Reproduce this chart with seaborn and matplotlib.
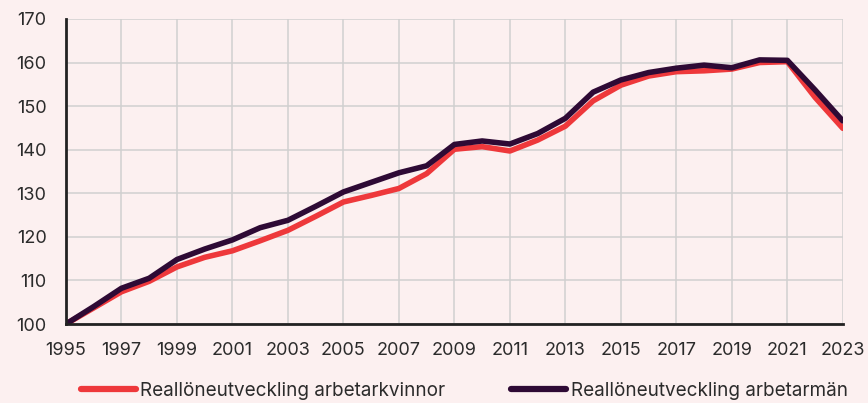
import matplotlib
matplotlib.use("Agg")
import matplotlib.pyplot as plt
import seaborn as sns
import pandas as pd

# data (index, 1995 = 100)
years = list(range(1995, 2024))
kvinnor = [100.0, 103.7, 107.4, 109.8, 113.1, 115.3, 116.8, 119.1, 121.5, 124.7,
           128.0, 129.5, 131.1, 134.5, 140.1, 140.7, 139.7, 142.2, 145.4, 151.2,
           154.8, 156.9, 157.9, 158.1, 158.5, 160.0, 160.2, 152.0, 144.9]
man = [100.0, 104.0, 108.2, 110.5, 114.8, 117.2, 119.3, 122.1, 123.8, 127.0,
       130.3, 132.5, 134.7, 136.3, 141.2, 142.0, 141.3, 143.7, 147.2, 153.2,
       156.0, 157.7, 158.7, 159.4, 158.8, 160.6, 160.5, 153.7, 146.6]
labels = ["Reallöneutveckling arbetarkvinnor", "Reallöneutveckling arbetarmän"]
colors = ["#EE383B", "#2E0A35"]

df = pd.DataFrame({
    "year": years * 2,
    "value": kvinnor + man,
    "serie": [labels[0]] * len(years) + [labels[1]] * len(years),
})

bg = "#FCF0F0"
sns.set_theme(style="whitegrid")
plt.rcParams["font.family"] = ["Inter", "DejaVu Sans"]

fig = plt.figure(figsize=(8.68, 4.03), dpi=100, facecolor=bg)
ax = fig.add_axes([0.076, 0.196, 0.895, 0.757])
ax.set_facecolor(bg)

sns.lineplot(data=df, x="year", y="value", hue="serie", palette=colors,
             linewidth=4, ax=ax, legend=False)

ax.set_xlim(1995, 2023)
ax.set_ylim(100, 170)
ax.set_xticks(range(1995, 2024, 2))
ax.set_yticks(range(100, 171, 10))
ax.set_xlabel("")
ax.set_ylabel("")
ax.grid(True, color="#D0D0D0", linewidth=1.1)
ax.tick_params(axis="both", labelsize=13, colors="#2B2B2B", length=0)
ax.tick_params(axis="y", pad=14)
ax.tick_params(axis="x", pad=13)

for side in ["top", "right"]:
    ax.spines[side].set_visible(False)
for side in ["left", "bottom"]:
    ax.spines[side].set_color("#222222")
    ax.spines[side].set_linewidth(2)

handles = [plt.Line2D([], [], color=c, linewidth=4.5, solid_capstyle="round") for c in colors]
fig.legend(handles, labels, loc="center", bbox_to_anchor=(0.535, 0.03), ncol=2,
           frameon=False, fontsize=13.6, handlelength=2.9, handletextpad=0.25,
           columnspacing=3.5, labelcolor="#2B2B2B")

fig.savefig("out.png", dpi=100, facecolor=bg)
